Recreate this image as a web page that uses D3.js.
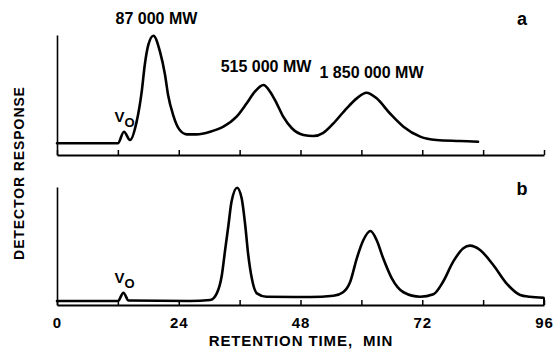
<!DOCTYPE html>
<html>
<head>
<meta charset="utf-8">
<script src="https://cdn.jsdelivr.net/npm/d3@7"></script>
<style>
  body { margin: 0; background: #fff; }
  svg { display: block; }
  text { font-family: "Liberation Sans", Arial, Helvetica, sans-serif; font-weight: bold; fill: #000; }
</style>
</head>
<body>
<svg id="chart" width="554" height="350"></svg>
<script>
// ---- Data (retention time in min, detector response in % of panel height) ----
const timeTicks = [0, 12, 24, 36, 48, 60, 72, 84, 96];
const tickLabels = [0, 24, 48, 72, 96];

const traceA = [
  [0, 9.8], [12.0, 9.8], [13.2, 19.4], [14.4, 12.5], [15.7, 27.8], [16.7, 52.8],
  [17.3, 75], [18.0, 91.7], [19.0, 99.4], [20.3, 86.1], [21.3, 66.7], [21.9, 50],
  [22.9, 33.3], [24.2, 20.8], [25.6, 17.2], [27.5, 17.2], [30.2, 19.4], [32.8, 23.6],
  [35.4, 31.9], [37.4, 43.1], [39.0, 52.8], [40.7, 58.3], [42.0, 52.8], [43.3, 43.1],
  [44.6, 31.9], [46.3, 22.3], [48.6, 16.7], [50.5, 15.8], [52.5, 18.5], [54.5, 26.4],
  [57.1, 38.9], [59.1, 47.2], [61.0, 51.9], [63.0, 47.2], [65.6, 34.8], [68.3, 23.6],
  [71.6, 15.3], [74.8, 12.5], [79.4, 11.7], [83.0, 11.1]
];

const traceB = [
  [0, 3.4], [12.0, 3.4], [13.1, 10.4], [14.1, 3.8], [26.2, 3.4], [30.2, 4.2],
  [31.5, 9.9], [32.5, 25.4], [33.1, 45.2], [33.8, 67.8], [34.4, 87.5], [35.5, 99.4],
  [36.4, 90.4], [37.1, 67.8], [37.7, 42.4], [38.4, 22.6], [39.4, 9.9], [41.3, 7.0],
  [49.9, 6.8], [54.5, 7.8], [56.4, 10.8], [57.8, 19.7], [59.1, 39.6], [60.4, 55.1],
  [61.8, 62.7], [63.0, 55.1], [64.3, 39.6], [66.0, 22.6], [68.3, 10.8], [71.6, 7.0],
  [74.2, 9.1], [76.1, 19.7], [78.1, 36.7], [80.1, 48.1], [81.4, 50.3], [83.4, 46.6],
  [86.0, 33.9], [88.6, 18.4], [91.3, 8.5], [93.2, 7.0], [95.9, 6.2]
];

const peakLabelsA = [
  { t: 19.6, r: 109.5, text: "87 000 MW" },
  { t: 41.2, r: 69.5, text: "515 000 MW" },
  { t: 62.0, r: 64.5, text: "1 850 000 MW" }
];
const voTime = 13.1;
const panelNames = ["a", "b"];

// ---- Layout ----
const svg = d3.select("#chart");
const x = d3.scaleLinear().domain([0, 96]).range([57, 544]);
const panels = [
  { data: traceA, y: d3.scaleLinear().domain([0, 100]).range([155, 35]), name: panelNames[0], voR: 19.4, labels: true, letterY: 25 },
  { data: traceB, y: d3.scaleLinear().domain([0, 100]).range([305, 187]), name: panelNames[1], voR: 10.4, labels: false, letterY: 195 }
];

panels.forEach((p, i) => {
  const g = svg.append("g");

  // x axis (ticks pointing up)
  const xa = d3.axisBottom(x).tickValues(timeTicks).tickSizeInner(-5).tickSizeOuter(0)
    .tickFormat(d => (i === 1 && tickLabels.includes(d)) ? d : "");
  const gx = g.append("g").attr("transform", `translate(0,${p.y(0)})`).call(xa);
  gx.select(".domain").attr("stroke", "#000").attr("stroke-width", 2);
  gx.selectAll(".tick line").attr("stroke", "#000").attr("stroke-width", 1.5);
  gx.selectAll(".tick text").attr("font-size", 15).attr("y", 10).attr("dy", "0.85em")
    .attr("letter-spacing", 1)
    .style("font-family", '"Liberation Sans", Arial, sans-serif').style("font-weight", "bold");

  // y axis line (no ticks)
  const ya = d3.axisLeft(p.y).tickValues([]).tickSizeOuter(0);
  const gy = g.append("g").attr("transform", `translate(${x(0)},0)`).call(ya);
  gy.select(".domain").attr("stroke", "#000").attr("stroke-width", 1.6);

  // trace
  const line = d3.line().x(d => x(d[0])).y(d => p.y(d[1])).curve(d3.curveMonotoneX);
  g.append("path").datum(p.data).attr("d", line)
    .attr("fill", "none").attr("stroke", "#000").attr("stroke-width", 2.6)
    .attr("stroke-linejoin", "round").attr("stroke-linecap", "round");

  if (i === 1) {
    const last = p.data[p.data.length - 1];
    g.append("line").attr("x1", x(96)).attr("x2", x(96))
      .attr("y1", p.y(last[1])).attr("y2", p.y(0))
      .attr("stroke", "#000").attr("stroke-width", 2);
  }

  // Vo label
  const vo = g.append("text").attr("x", x(voTime) - 9).attr("y", p.y(p.voR) - 10)
    .attr("font-size", 15);
  vo.append("tspan").text("V");
  vo.append("tspan").attr("dy", 5).attr("font-size", 13).text("O");

  // panel letter
  g.append("text").attr("x", 522).attr("y", p.letterY)
    .attr("text-anchor", "middle").attr("font-size", 18).text(p.name);

  if (p.labels) {
    peakLabelsA.forEach(l => {
      g.append("text").attr("x", x(l.t)).attr("y", p.y(l.r))
        .attr("text-anchor", "middle").attr("font-size", 16)
        .text(l.text);
    });
  }
});

// axis titles
svg.append("text").attr("x", 301).attr("y", 346).attr("text-anchor", "middle")
  .attr("font-size", 15).attr("letter-spacing", 0.9).style("white-space", "pre")
  .text("RETENTION TIME,  MIN");
svg.append("text").attr("transform", "translate(24,173) rotate(-90)")
  .attr("text-anchor", "middle").attr("font-size", 14).attr("letter-spacing", 0.9)
  .text("DETECTOR RESPONSE");
</script>
</body>
</html>
